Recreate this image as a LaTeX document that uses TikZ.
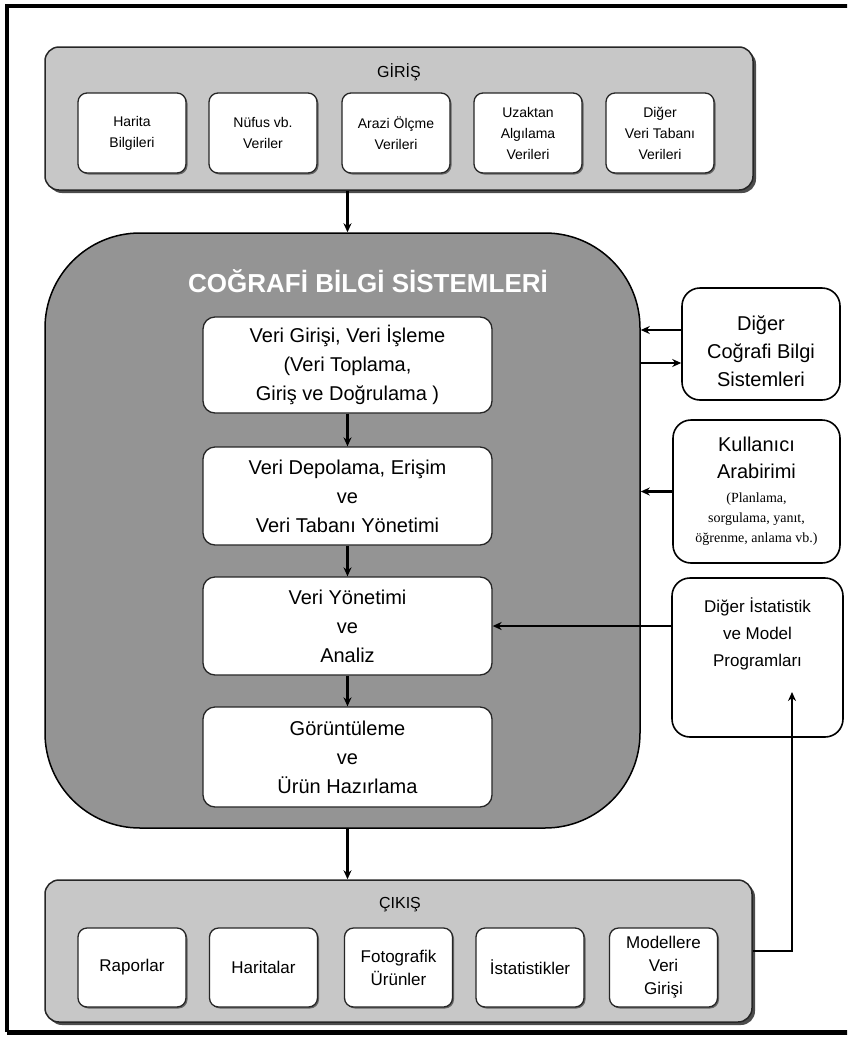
\documentclass[tikz,border=0pt]{standalone}
\usepackage{fontspec}
\setmainfont{Liberation Sans}
\newfontfamily\serifsmall{Liberation Serif}
\usetikzlibrary{arrows.meta,shadows}
\begin{document}
\begin{tikzpicture}[x=1pt,y=-1pt,
  panel/.style={draw=black!85, line width=1.5pt, fill=black!22, rounded corners=14pt,
    drop shadow={shadow xshift=3pt, shadow yshift=-3pt, fill=black!70, opacity=1}},
  paneltitle/.style={font=\fontsize{16}{20}\selectfont},
  sbox/.style={draw=black!85, line width=1.3pt, fill=white, rounded corners=9pt,
    minimum width=108pt, minimum height=80pt, align=center, inner sep=1pt,
    drop shadow={shadow xshift=1.5pt, shadow yshift=-1.5pt, fill=black!60, opacity=1}},
  gtext/.style={font=\fontsize{14}{21}\selectfont},
  ctext/.style={font=\fontsize{17}{23}\selectfont},
  cbsbox/.style={draw=black, line width=1.5pt, fill=black!42, rounded corners=95pt,
    minimum width=595pt, minimum height=595pt},
  ibox/.style={draw=black!85, line width=1.3pt, fill=white, rounded corners=12pt,
    minimum width=289pt, align=center, inner sep=1pt, font=\fontsize{20}{29}\selectfont},
  rbox/.style={draw=black, line width=1.6pt, fill=white, rounded corners=18pt,
    align=center, inner sep=1pt},
  conn/.style={line width=2.4pt, draw=black},
  arr/.style={conn, -{Stealth[length=9pt,width=8pt]}}
]
\useasboundingbox (0,0) rectangle (847,1039);
\clip (0,0) rectangle (847,1039);

% outer frame
\draw[line width=4.5pt] (7,1032) -- (7,6) -- (870,6);
\draw[line width=5pt] (7,1032) -- (870,1032);

% helper coordinates
\coordinate (y330) at (0,330);
\coordinate (y363) at (0,363);
\coordinate (tipDist) at (792,692);

% GIRIS panel
\node[panel, minimum width=708pt, minimum height=143pt] (giris) at (399,118.5) {};
\node[paneltitle] (girisT) at (399,72) {GİRİŞ};
\node[sbox, gtext] (g1) at (132,133) {Harita\\Bilgileri};
\node[sbox, gtext] (g2) at (263,133) {Nüfus vb.\\Veriler};
\node[sbox, gtext] (g3) at (396,133) {Arazi Ölçme\\Verileri};
\node[sbox, gtext] (g4) at (528,133) {Uzaktan\\Algılama\\Verileri};
\node[sbox, gtext] (g5) at (660,133) {Diğer\\Veri Tabanı\\Verileri};

% CBS main box
\node[cbsbox] (cbs) at (342.5,530.5) {};
\node[text=white, font=\fontsize{26}{30}\bfseries\selectfont] (cbsT) at (368,281) {COĞRAFİ BİLGİ SİSTEMLERİ};
\node[ibox, minimum height=96pt] (b1) at (347.5,365) {Veri Girişi, Veri İşleme\\(Veri Toplama,\\Giriş ve Doğrulama )};
\node[ibox, minimum height=98pt] (b2) at (347.5,496) {Veri Depolama, Erişim\\ve\\Veri Tabanı Yönetimi};
\node[ibox, minimum height=98pt] (b3) at (347.5,626) {Veri Yönetimi\\ve\\Analiz};
\node[ibox, minimum height=100pt] (b4) at (347.5,757) {Görüntüleme\\ve\\Ürün Hazırlama};

% right boxes
\node[rbox, minimum width=158pt, minimum height=112pt] (dcbs) at (761,344) {};
\node[align=center, font=\fontsize{20}{28}\selectfont] (dcbsT) at (761,351) {Diğer\\Coğrafi Bilgi\\Sistemleri};
\node[rbox, minimum width=167pt, minimum height=143pt] (kul) at (756.5,491.5) {};
\node[align=center, font=\fontsize{20}{27}\selectfont] (kulT) at (756.5,458) {Kullanıcı\\Arabirimi};
\node[align=center, font=\serifsmall\fontsize{14}{20}\selectfont] (kulS) at (756.5,519) {(Planlama,\\sorgulama, yanıt,\\öğrenme, anlama vb.)};
\node[rbox, minimum width=171pt, minimum height=159pt] (dist) at (757.5,657.5) {};
\node[align=center, font=\fontsize{17}{27}\selectfont] (distT) at (757.5,634) {Diğer İstatistik\\ve Model\\Programları};

% CIKIS panel
\node[panel, minimum width=707pt, minimum height=142pt] (cikis) at (398.5,951) {};
\node[paneltitle] (cikisT) at (400,905) {ÇIKIŞ};
\node[sbox, ctext, minimum height=79pt] (c1) at (132,967.5) {Raporlar};
\node[sbox, ctext, minimum height=79pt] (c2) at (263.5,967.5) {Haritalar};
\node[sbox, ctext, minimum height=79pt] (c3) at (398.5,967.5) {Fotografik\\Ürünler};
\node[sbox, ctext, minimum height=79pt] (c4) at (530,967.5) {İstatistikler};
\node[sbox, ctext, minimum height=79pt] (c5) at (663.5,967.5) {Modellere\\Veri\\Girişi};

% connectors
\draw[arr] (giris.south -| b1.center) -- (cbs.north -| b1.center);
\draw[arr] (cbs.south -| b1.center) -- (cikis.north -| b1.center);
\draw[arr] (b1) -- (b2);
\draw[arr] (b2) -- (b3);
\draw[arr] (b3) -- (b4);
\draw[arr] (dcbs.west |- y330) -- (cbs.east |- y330);
\draw[arr] (cbs.east |- y363) -- (dcbs.west |- y363);
\draw[arr] (kul.west) -- (cbs.east |- kul.west);
\draw[arr] (dist.west |- b3.east) -- (b3.east);
\draw[arr] (cikis.east) -| (tipDist);
\end{tikzpicture}
\end{document}
